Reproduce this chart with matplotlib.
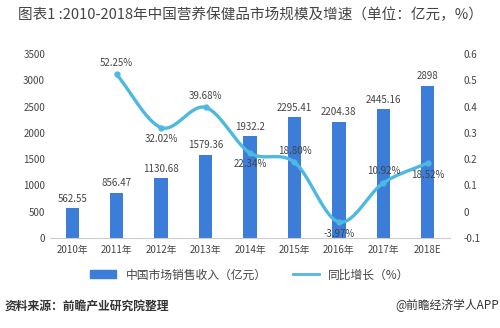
import numpy as np
import matplotlib
matplotlib.use("Agg")
from matplotlib import pyplot as plt
from matplotlib.lines import Line2D
from matplotlib.patches import Patch

plt.rcParams['font.family'] = ['Noto Sans CJK SC', 'DejaVu Sans']

years = ["2010年", "2011年", "2012年", "2013年", "2014年", "2015年", "2016年", "2017年", "2018E"]
revenue = [562.55, 856.47, 1130.68, 1579.36, 1932.2, 2295.41, 2204.38, 2445.16, 2898]
revenue_labels = ["562.55", "856.47", "1130.68", "1579.36", "1932.2", "2295.41", "2204.38", "2445.16", "2898"]
growth = [0.5225, 0.3202, 0.3968, 0.2234, 0.1880, -0.0397, 0.1092, 0.1852]  # from 2011
growth_labels = ["52.25%", "32.02%", "39.68%", "22.34%", "18.80%", "-3.97%", "10.92%", "18.52%"]

bar_color = "#3b7dd8"
line_color = "#4db8e2"
text_color = "#444444"


def catmull_rom(x, y, n=30):
    # smooth curve through the points, like Excel's smoothed line
    x = np.asarray(x, float)
    y = np.asarray(y, float)
    px = np.concatenate([[2 * x[0] - x[1]], x, [2 * x[-1] - x[-2]]])
    py = np.concatenate([[2 * y[0] - y[1]], y, [2 * y[-1] - y[-2]]])
    xs, ys = [], []
    for i in range(1, len(px) - 2):
        t = np.linspace(0, 1, n)
        for p, out in ((px, xs), (py, ys)):
            p0, p1, p2, p3 = p[i - 1], p[i], p[i + 1], p[i + 2]
            out.extend(0.5 * (2 * p1 + (-p0 + p2) * t + (2 * p0 - 5 * p1 + 4 * p2 - p3) * t ** 2
                              + (-p0 + 3 * p1 - 3 * p2 + p3) * t ** 3))
    return np.array(xs), np.array(ys)


fig = plt.figure(figsize=(5.0, 3.28), dpi=100)
ax = fig.add_axes([0.10, 0.275, 0.80, 0.56])
ax2 = ax.twinx()

x = np.arange(len(years))
ax.bar(x, revenue, width=0.3, color=bar_color, zorder=2)
for xi, v, lab in zip(x, revenue, revenue_labels):
    ax.text(xi, v + 90, lab, ha="center", va="bottom", fontsize=7, color=text_color)

ax.set_ylim(0, 3500)
ax.set_yticks(range(0, 3501, 500))
ax.set_xlim(-0.5, len(years) - 0.5)
ax.set_xticks(x)
ax.set_xticklabels(years)
for s in ["top", "right", "left"]:
    ax.spines[s].set_visible(False)
    ax2.spines[s].set_visible(False)
ax2.spines["bottom"].set_visible(False)
ax.spines["bottom"].set_color("#cccccc")
ax.tick_params(axis="both", length=0, labelsize=7, colors=text_color)
ax.tick_params(axis="x", pad=5)

gx = x[1:]
sx, sy = catmull_rom(gx, growth)
ax2.plot(sx, sy, color=line_color, lw=2.4, zorder=3)
ax2.plot(gx, growth, "o", color=line_color, ms=3.5, zorder=4)
ax2.set_ylim(-0.1, 0.6)
ax2.set_yticks(np.round(np.arange(-0.1, 0.61, 0.1), 1))
ax2.set_yticklabels(["-0.1", "0", "0.1", "0.2", "0.3", "0.4", "0.5", "0.6"])
ax2.tick_params(axis="y", length=0, labelsize=7, colors=text_color, pad=10)

offsets = [1, -1, 1, -1, 1, -1, 1, -1]
for xi, v, lab, o in zip(gx, growth, growth_labels, offsets):
    ax2.text(xi, v + o * 0.025, lab, ha="center", va="bottom" if o > 0 else "top",
             fontsize=7, color=text_color, zorder=5)

handles = [Patch(color=bar_color), Line2D([], [], color=line_color, lw=2)]
fig.legend(handles, ["中国市场销售收入（亿元）", "同比增长（%）"], loc="center",
           bbox_to_anchor=(0.5, 0.162), ncol=2, frameon=False, fontsize=8.5,
           handlelength=2.2, handleheight=0.6, columnspacing=2.2, labelcolor=text_color)

fig.text(0.035, 0.955, "图表1 :2010-2018年中国营养保健品市场规模及增速（单位：亿元，%）",
         fontsize=10.5, color="#444444", va="center")
fig.text(0.01, 0.068, "资料来源：前瞻产业研究院整理", fontsize=8.5, color="#333333",
         style="italic", weight="bold", va="center")
fig.text(0.998, 0.068, "@前瞻经济学人APP", fontsize=8.5, color="#333333", ha="right", va="center")

fig.savefig("out.png", dpi=100, facecolor="white")
